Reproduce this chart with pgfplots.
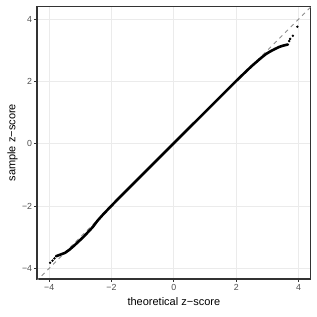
\documentclass[border=0pt]{standalone}
\usepackage{pgfplots}
\pgfplotsset{compat=1.18}
\usepackage{fontspec}
\setmainfont{Liberation Sans}
\definecolor{gridc}{HTML}{EBEBEB}
\definecolor{framec}{HTML}{333333}
\definecolor{ticklab}{HTML}{4D4D4D}
\definecolor{refl}{HTML}{8C8C8C}
\begin{document}
\begin{tikzpicture}
\useasboundingbox (-37pt,-38pt) rectangle (280pt,279pt);
\begin{axis}[
  at={(0,0)}, anchor=south west,
  scale only axis, width=273.7pt, height=272.5pt,
  xmin=-4.39, xmax=4.39, ymin=-4.34, ymax=4.41,
  xtick={-4,-2,0,2,4}, xticklabels={−4,−2,0,2,4},
  ytick={-4,-2,0,2,4}, yticklabels={−4,−2,0,2,4},
  xtick pos=bottom, ytick pos=left,
  minor tick num=0,
  tick align=outside, major tick length=2.75pt,
  tick style={framec, line width=1.0pt},
  axis line style={framec, line width=1.1pt},
  grid=major, major grid style={gridc, line width=1.1pt},
  ticklabel style={font=\fontsize{8.8}{10}\selectfont, text=ticklab},
  xticklabel style={inner sep=0pt, anchor=north, yshift=-2pt},
  yticklabel style={inner sep=0pt, anchor=east, xshift=-2pt},
  xlabel={theoretical z−score},
  ylabel={\rotatebox{90}{sample z−score}},
  every axis x label/.style={at={(axis description cs:0.5,0)}, anchor=base, yshift=-26.5pt, inner sep=0pt, font=\fontsize{11}{13}\selectfont},
  every axis y label/.style={at={(axis description cs:0,0.5)}, anchor=center, xshift=-24.5pt, inner sep=0pt, font=\fontsize{11}{13}\selectfont},
  clip=true,
]
\addplot[refl, line width=0.9pt, dash pattern=on 4pt off 4pt, forget plot] coordinates {(-4.6,-4.6) (4.6,4.6)};
\addplot[black, line width=2.6pt, line join=round, line cap=round] coordinates {
(-3.78,-3.61) (-3.65,-3.56) (-3.49,-3.50) (-3.35,-3.40) (-3.20,-3.27)
(-3.05,-3.13) (-2.90,-2.99) (-2.75,-2.83) (-2.60,-2.67) (-2.45,-2.47)
(-2.30,-2.30) (-2.10,-2.09) (-1.80,-1.78) (-1.50,-1.48) (-1.00,-0.98) (-0.50,-0.48)
(0.00,0.02) (0.50,0.52) (1.00,1.02) (1.50,1.52) (2.00,2.02)
(2.30,2.31) (2.50,2.50) (2.65,2.63) (2.80,2.76) (2.95,2.88)
(3.08,2.96) (3.25,3.05) (3.40,3.12) (3.53,3.16) (3.66,3.19)
};
\addplot[only marks, mark=*, mark size=1.0pt, black] coordinates {
(-3.97,-3.82) (-3.89,-3.75) (-3.83,-3.68)
(3.70,3.30) (3.73,3.37) (3.82,3.47) (3.96,3.76)
};
\end{axis}
\end{tikzpicture}
\end{document}
